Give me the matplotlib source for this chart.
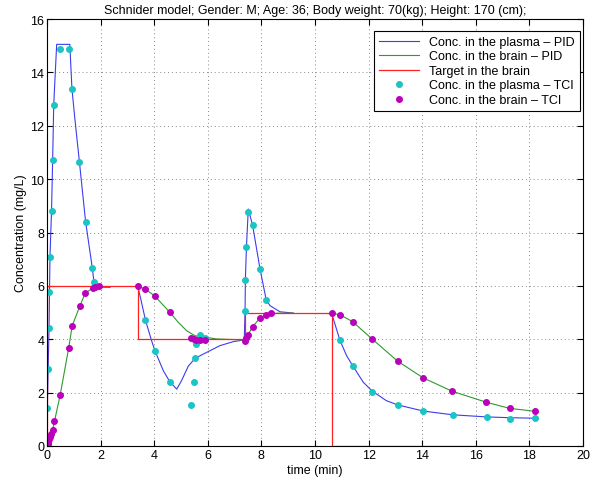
import matplotlib
matplotlib.use("Agg")
import matplotlib.pyplot as plt

plt.rcParams['font.family'] = ['Liberation Sans', 'DejaVu Sans']

# PID: plasma concentration (blue), drawn in segments
plasma_t1 = [0, 0.01, 0.075, 0.11, 0.17, 0.21, 0.25, 0.36, 0.85, 0.93, 1.04, 1.21, 1.44, 1.69, 1.75, 1.85, 2.0, 2.35]
plasma_c1 = [0, 1.41, 4.41, 7.07, 8.88, 10.72, 12.78, 15.05, 15.05, 13.38, 12.25, 10.63, 8.4, 6.67, 6.16, 6.0, 5.96, 5.95]
plasma_t2 = [3.38, 3.5, 3.67, 3.9, 4.03, 4.34, 4.58, 4.84, 5.02, 5.27, 5.53, 5.96, 6.45, 6.95, 7.2, 7.36,
             7.39, 7.40, 7.44, 7.51, 7.67, 7.95, 8.18, 8.32, 8.69, 9.19]
plasma_c2 = [6.0, 5.5, 4.73, 3.95, 3.56, 2.82, 2.41, 2.13, 2.45, 2.99, 3.29, 3.51, 3.76, 3.91, 3.95, 4.0,
             5.07, 6.2, 7.44, 8.88, 8.27, 6.62, 5.47, 5.26, 5.03, 4.98]
plasma_t3 = [10.62, 10.93, 11.18, 11.41, 11.8, 12.13, 12.66, 13.08, 14.04, 15.12, 16.4, 17.26, 18.21]
plasma_c3 = [4.97, 3.96, 3.38, 3.0, 2.39, 2.06, 1.70, 1.54, 1.31, 1.17, 1.09, 1.06, 1.04]

# PID: brain concentration (green)
brain_t1 = [0, 0.05, 0.21, 0.49, 0.81, 0.94, 1.22, 1.43, 1.66, 1.9, 2.35]
brain_c1 = [0, 0.1, 0.61, 1.91, 3.68, 4.51, 5.23, 5.74, 5.88, 5.95, 5.95]
brain_t2 = [3.38, 3.67, 4.03, 4.58, 4.9, 5.21, 5.52, 5.96, 6.33, 7.2, 7.39,
            7.44, 7.5, 7.67, 7.95, 8.18, 8.36, 9.19]
brain_c2 = [5.98, 5.88, 5.61, 5.01, 4.63, 4.32, 4.13, 4.07, 4.01, 3.98, 3.93,
            4.05, 4.16, 4.47, 4.8, 4.92, 4.97, 4.98]
brain_t3 = [10.62, 10.93, 11.4, 12.13, 13.08, 14.04, 15.12, 16.39, 17.26, 18.21]
brain_c3 = [4.97, 4.92, 4.66, 4.01, 3.18, 2.55, 2.05, 1.64, 1.41, 1.30]

# target in the brain (red step)
target_t = [0, 0, 3.38, 3.38, 7.39, 7.39, 10.62, 10.62, 18.3]
target_c = [0, 6, 6, 4, 4, 5, 5, 0, 0]

# TCI samples
tci_plasma_t = [0.01, 0.04, 0.075, 0.09, 0.11, 0.17, 0.21, 0.25, 0.49, 0.81, 0.93, 1.21, 1.44, 1.69, 1.77,
                3.67, 4.03, 4.58, 5.38, 5.48, 5.53, 5.57, 5.72, 5.9,
                7.39, 7.40, 7.44, 7.50, 7.67, 7.95, 8.18,
                10.93, 11.41, 12.13, 13.08, 14.04, 15.13, 16.40, 17.26, 18.21]
tci_plasma_c = [1.41, 2.87, 4.41, 5.78, 7.07, 8.8, 10.72, 12.78, 14.89, 14.89, 13.38, 10.63, 8.4, 6.67, 6.16,
                4.73, 3.56, 2.41, 1.54, 2.41, 3.29, 3.82, 4.16, 4.05,
                5.07, 6.21, 7.44, 8.76, 8.27, 6.62, 5.47,
                3.96, 3.0, 2.04, 1.55, 1.31, 1.17, 1.09, 1.0, 1.04]
tci_brain_t = [0.0, 0.02, 0.05, 0.08, 0.12, 0.16, 0.21, 0.26, 0.49, 0.81, 0.94, 1.22, 1.43, 1.73, 1.78, 1.95,
               3.38, 3.67, 4.03, 4.58, 5.38, 5.48, 5.57, 5.72, 5.9,
               7.39, 7.44, 7.5, 7.67, 7.95, 8.18, 8.36,
               10.62, 10.93, 11.4, 12.13, 13.08, 14.04, 15.12, 16.39, 17.26, 18.21]
tci_brain_c = [0.03, 0.08, 0.15, 0.25, 0.35, 0.45, 0.61, 0.95, 1.91, 3.68, 4.51, 5.23, 5.74, 5.91, 5.95, 5.98,
               5.98, 5.88, 5.61, 5.01, 4.05, 4.01, 3.96, 3.96, 3.96,
               3.93, 4.05, 4.16, 4.47, 4.8, 4.92, 4.97,
               4.97, 4.92, 4.66, 4.01, 3.18, 2.55, 2.05, 1.64, 1.41, 1.32]

blue = '#3c3cf0'
green = '#2e9a2e'
red = '#ff2020'
cyan = '#1cc4c4'
magenta = '#bb00bb'

fig = plt.figure(figsize=(5.9, 4.81), dpi=100)
ax = fig.add_axes([0.0797, 0.0707, 0.9085, 0.8877])

ax.plot(plasma_t1, plasma_c1, color=blue, lw=0.8, label='Conc. in the plasma \u2013 PID')
ax.plot(plasma_t2, plasma_c2, color=blue, lw=0.8)
ax.plot(plasma_t3, plasma_c3, color=blue, lw=0.8)
ax.plot(brain_t1, brain_c1, color=green, lw=0.8, label='Conc. in the brain \u2013 PID')
ax.plot(brain_t2, brain_c2, color=green, lw=0.8)
ax.plot(brain_t3, brain_c3, color=green, lw=0.8)
ax.plot(target_t, target_c, color=red, lw=0.9, label='Target in the brain')
ax.plot(tci_plasma_t, tci_plasma_c, 'o', color=cyan, ms=4.0, mec=cyan, label='Conc. in the plasma \u2013 TCI')
ax.plot(tci_brain_t, tci_brain_c, 'o', color=magenta, ms=4.0, mec=magenta, label='Conc. in the brain \u2013 TCI')

ax.set_xlim(0, 20)
ax.set_ylim(0, 16)
ax.set_xticks(range(0, 21, 2))
ax.set_yticks(range(0, 17, 2))
ax.grid(True, linestyle=(0, (1, 3)), color='#888888', lw=0.7)
ax.tick_params(direction='in', top=True, right=True, labelsize=9, length=4, pad=2)
ax.set_xlabel('time (min)', fontsize=9, labelpad=2)
ax.set_ylabel('Concentration (mg/L)', fontsize=9, labelpad=2)
ax.set_title('Schnider model; Gender: M; Age: 36; Body weight: 70(kg); Height: 170 (cm);', fontsize=9, pad=4)

leg = ax.legend(loc='upper right', bbox_to_anchor=(0.994, 0.972), fontsize=9, fancybox=False,
                framealpha=1, edgecolor='black', handlelength=3.2, borderpad=0.4,
                labelspacing=0.2, borderaxespad=0)
leg.get_frame().set_linewidth(0.8)

fig.savefig('out.png', dpi=100)
